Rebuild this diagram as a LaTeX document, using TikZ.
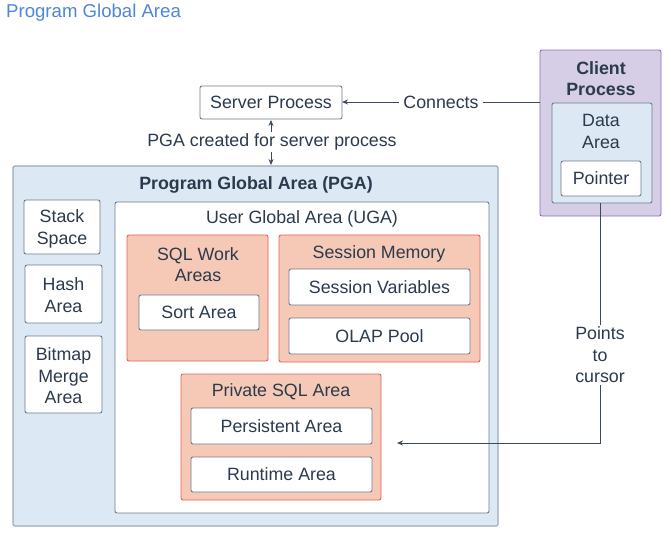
\documentclass[tikz,border=0pt]{standalone}
\usepackage{fontspec}
\setmainfont{Liberation Sans}
\usetikzlibrary{arrows.meta}
\definecolor{txt}{HTML}{2B3A4C}
\definecolor{ttl}{HTML}{4F86D8}
\definecolor{pgafill}{HTML}{DCE8F4}
\definecolor{pgadraw}{HTML}{9AAAB9}
\definecolor{salfill}{HTML}{F5C9B5}
\definecolor{saldraw}{HTML}{E5605A}
\definecolor{lavfill}{HTML}{D5CEE6}
\definecolor{lavdraw}{HTML}{8B6CC0}
\definecolor{boxdraw}{HTML}{6E7C8A}
\definecolor{lnk}{HTML}{3A4A5A}
\tikzset{
  every node/.style={text=txt, font=\fontsize{17.8}{21.5}\selectfont},
  area/.style={rectangle, rounded corners=2pt, inner sep=0pt, outer sep=0pt, line width=0.9pt, anchor=north west},
  whitebox/.style={area, draw=boxdraw, fill=white, align=center},
  pgabox/.style={area, draw=pgadraw, fill=pgafill, line width=1.2pt},
  salbox/.style={area, draw=saldraw, fill=salfill},
  lavbox/.style={area, draw=lavdraw, fill=lavfill},
  databox/.style={area, draw=boxdraw, fill=pgafill},
  lbl/.style={align=center, inner sep=1pt},
  link/.style={draw=lnk, line width=0.8pt},
  tip/.style={-{Stealth[length=6pt,width=5pt]}},
}
\begin{document}
\begin{tikzpicture}[x=1pt,y=-1pt]
\useasboundingbox (0,0) rectangle (671,546);
% title
\node[anchor=west, text=ttl, font=\fontsize{18.6}{22}\selectfont, inner sep=0pt] (title) at (6,12.5) {Program Global Area};

% server process
\node[whitebox, minimum width=142pt, minimum height=33pt] (server) at (200,86) {Server Process};

% PGA
\node[pgabox, minimum width=485pt, minimum height=360pt] (pga) at (13,166) {};
\node[lbl, font=\bfseries\fontsize{17.8}{21.5}\selectfont] (pgat) at (256,185) {Program Global Area (PGA)};

\node[whitebox, minimum width=76pt, minimum height=54pt] (stack) at (24,200) {};
\node[whitebox, minimum width=77pt, minimum height=58pt] (hash) at (25,265) {};
\node[whitebox, minimum width=77pt, minimum height=77pt] (bitmap) at (25,336) {};
\node[lbl] (stackl) at ([yshift=-2pt]stack.center) {Stack\\Space};
\node[lbl] (hashl) at ([yshift=-1pt]hash.center) {Hash\\Area};
\node[lbl] (bitmapl) at ([yshift=-1.5pt]bitmap.center) {Bitmap\\Merge\\Area};

% UGA
\node[whitebox, minimum width=374pt, minimum height=311pt] (uga) at (115,202) {};
\node[lbl] (ugat) at (302,219) {User Global Area (UGA)};

% SQL Work Areas
\node[salbox, minimum width=141pt, minimum height=126pt] (sqlw) at (127,235) {};
\node[lbl] (sqlwt) at (198,264.5) {SQL Work\\Areas};
\node[whitebox, minimum width=120pt, minimum height=35pt] (sort) at (139,295) {Sort Area};

% Session Memory
\node[salbox, minimum width=201pt, minimum height=127pt] (sess) at (279,235) {};
\node[lbl] (sesst) at (379,254) {Session Memory};
\node[whitebox, minimum width=181pt, minimum height=36pt] (svars) at (289,269) {Session Variables};
\node[whitebox, minimum width=181pt, minimum height=36pt] (olap) at (289,318) {OLAP Pool};

% Private SQL Area
\node[salbox, minimum width=200pt, minimum height=126pt] (priv) at (181,374) {};
\node[lbl] (privt) at (281,392) {Private SQL Area};
\node[whitebox, minimum width=181pt, minimum height=36pt] (pers) at (191,408) {Persistent Area};
\node[whitebox, minimum width=181pt, minimum height=35pt] (run) at (191,457) {Runtime Area};

% Client Process
\node[lavbox, minimum width=121pt, minimum height=166pt] (client) at (540,50) {};
\node[lbl, font=\bfseries\fontsize{17.8}{21}\selectfont] (clientt) at (601,78.5) {Client\\Process};
\node[databox, minimum width=100pt, minimum height=100pt] (data) at (552,103) {};
\node[lbl] (datat) at (601,131.5) {Data\\Area};
\node[whitebox, minimum width=80pt, minimum height=35pt] (ptr) at (561,161) {Pointer};

% connectors
\path[link, tip] (client.west |- 0,102) -- (server.east |- 0,102)
  node[pos=0.5, fill=white, lbl, inner sep=4pt] (conn) {Connects};
\draw[link, {Stealth[length=6pt,width=5pt]}-{Stealth[length=6pt,width=5pt]}] (271,120) coordinate (sp) -- (271,165) coordinate (pg);
\node[lbl, fill=white, inner sep=2pt] (pgalbl) at (272,142) {PGA created for server process};

\coordinate (cursorend) at (397,443);
\draw[link, tip] (data.south -| 600,0) -- (600,443) -- (cursorend);
\node[lbl, fill=white, inner sep=2pt] (ptc) at (600,355) {Points\\to\\cursor};
\end{tikzpicture}
\end{document}
